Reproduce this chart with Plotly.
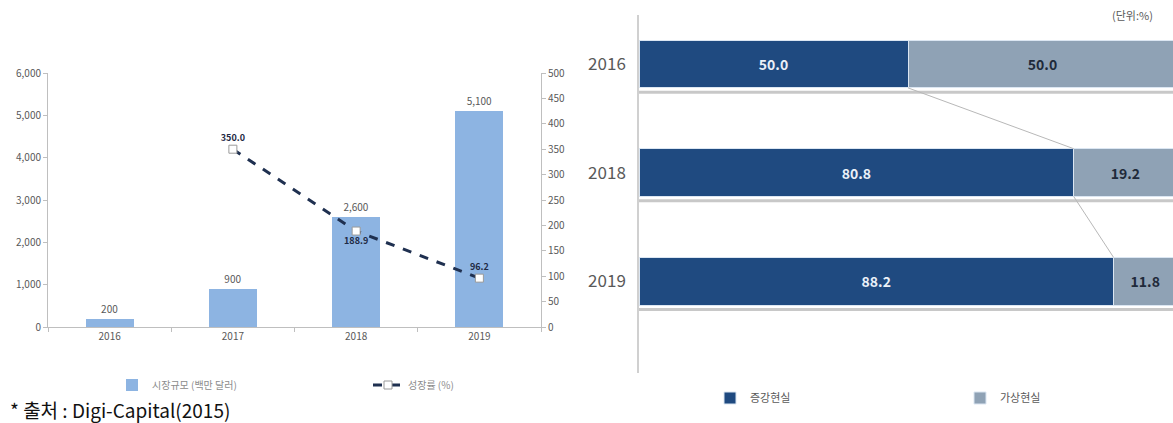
import plotly.graph_objects as go

# Left chart data
years_left = ["2016", "2017", "2018", "2019"]
market_size = [200, 900, 2600, 5100]          # 시장규모 (백만 달러)
growth_rate = [None, 350.0, 188.9, 96.2]       # 성장률 (%)
market_labels = ["200", "900", "2,600", "5,100"]
growth_labels = ["", "350.0", "188.9", "96.2"]

# Right chart data
years_right = ["2016", "2018", "2019"]
ar_share = [50.0, 80.8, 88.2]   # 증강현실
vr_share = [50.0, 19.2, 11.8]   # 가상현실

FONT = "Noto Sans CJK KR"
GRAY = "#595959"
NAVY = "#1F4A80"
SLATE = "#8FA2B5"
LIGHTBLUE = "#8DB4E2"
W, H = 1173, 423

fig = go.Figure()

# ---- Left: bars + line
fig.add_trace(go.Bar(
    x=years_left, y=market_size, name="시장규모 (백만 달러)",
    marker=dict(color=LIGHTBLUE, line=dict(width=0)), width=0.39,
    text=market_labels, textposition="outside", cliponaxis=False,
    textfont=dict(size=10, color=GRAY, family=FONT),
    xaxis="x", yaxis="y", legend="legend",
))
fig.add_trace(go.Scatter(
    x=years_left, y=growth_rate, name="성장률 (%)", mode="lines+markers+text",
    line=dict(color="#1F3050", width=3, dash="dash"),
    marker=dict(symbol="square", size=8, color="white", line=dict(color="#9a9a9a", width=1)),
    text=growth_labels,
    textposition=["top center", "top center", "bottom center", "top center"],
    textfont=dict(size=9, color="#1F2A44", family=FONT, weight="bold"),
    cliponaxis=False,
    xaxis="x", yaxis="y3", legend="legend3",
))

# ---- Right: stacked horizontal bars
idx = list(range(len(years_right)))
BW = 0.44
fig.add_trace(go.Bar(
    y=idx, x=ar_share, orientation="h", name="증강현실",
    marker=dict(color=NAVY, line=dict(color="#dbe6f2", width=1)), width=BW,
    text=[f"{v:.1f}" for v in ar_share], textposition="inside", insidetextanchor="middle",
    textfont=dict(size=14, color="#EAF0F8", family=FONT, weight="bold"),
    xaxis="x2", yaxis="y2", legend="legend2",
))
fig.add_trace(go.Bar(
    y=idx, x=vr_share, orientation="h", name="가상현실",
    marker=dict(color=SLATE, line=dict(color="#dbe6f2", width=1)), width=BW,
    text=[f"{v:.1f}" for v in vr_share], textposition="inside", insidetextanchor="middle",
    textfont=dict(size=14, color="#1F2A3A", family=FONT, weight="bold"),
    constraintext="none",
    xaxis="x2", yaxis="y2", legend="legend4",
))

# series connector lines
cx, cy = [], []
for i in range(len(ar_share) - 1):
    cx += [ar_share[i], ar_share[i + 1], None]
    cy += [idx[i] + BW / 2, idx[i + 1] - BW / 2, None]
fig.add_trace(go.Scatter(
    x=cx, y=cy, mode="lines", line=dict(color="#b8b8b8", width=1),
    showlegend=False, hoverinfo="skip", xaxis="x2", yaxis="y2",
))

# shadow lines under each bar
shapes = []
for i in idx:
    shapes.append(dict(type="line", xref="x2 domain", yref="y2",
                       x0=0, x1=1, y0=i + BW / 2 + 0.04, y1=i + BW / 2 + 0.04,
                       line=dict(color="#c8c8c8", width=3), layer="below"))

# ---- Layout
lx0, lx1 = 48 / W, 541 / W
ly0, ly1 = (H - 327) / H, (H - 73) / H
rx0 = 639 / W
ry0, ry1 = (H - 373) / H, (H - 15) / H
px_per_pct = 5.38
px_per_row = 108.6

axis_font = dict(size=10, color=GRAY, family=FONT)


def leg(xpx, ypx, size, color):
    return dict(orientation="h", x=xpx / W, y=(H - ypx) / H, xanchor="left", yanchor="middle",
                font=dict(size=size, color=color, family=FONT), bgcolor="rgba(0,0,0,0)",
                itemwidth=30, borderwidth=0)


fig.update_layout(
    width=W, height=H,
    margin=dict(l=0, r=0, t=0, b=0, autoexpand=False),
    paper_bgcolor="white", plot_bgcolor="white",
    barmode="stack",
    font=dict(family=FONT, color=GRAY),
    xaxis=dict(domain=[lx0, lx1], type="category", showline=True, linecolor="#bfbfbf",
               ticks="outside", tickson="boundaries", ticklen=4, tickcolor="#bfbfbf",
               tickfont=axis_font, showgrid=False, anchor="y"),
    yaxis=dict(domain=[ly0, ly1], range=[0, 6000], dtick=1000, tickformat=",",
               showline=True, linecolor="#bfbfbf", ticks="outside", ticklen=4,
               tickcolor="#bfbfbf", tickfont=axis_font, showgrid=False, zeroline=False,
               anchor="x"),
    yaxis3=dict(domain=[ly0, ly1], range=[0, 500], dtick=50, overlaying="y", side="right",
                anchor="x", showline=True, linecolor="#bfbfbf", ticks="outside", ticklen=4,
                tickcolor="#bfbfbf", tickfont=axis_font, showgrid=False, zeroline=False),
    xaxis2=dict(domain=[rx0, 1.0], range=[0, (W - 639) / px_per_pct], showticklabels=False,
                showgrid=False, zeroline=False, showline=False, anchor="y2"),
    yaxis2=dict(domain=[ry0, ry1],
                range=[(373 - 64) / px_per_row, -(64 - 15) / px_per_row],
                tickmode="array", tickvals=idx, ticktext=years_right,
                tickfont=dict(size=17, color=GRAY, family=FONT),
                showline=True, linecolor="#d0d0d0", linewidth=1.5, ticks="",
                showgrid=False, zeroline=False, anchor="x2", ticklabelstandoff=8),
    shapes=shapes,
    legend=leg(112, 385, 10, "#8c8c8c"),
    legend3=leg(368, 385, 10, "#8c8c8c"),
    legend2=leg(710, 398, 11, GRAY),
    legend4=leg(960, 398, 11, GRAY),
    annotations=[
        dict(text="* 출처 : Digi-Capital(2015)", xref="paper", yref="paper",
             x=8 / W, y=(H - 409) / H, xanchor="left", yanchor="middle", showarrow=False,
             font=dict(size=19, color="#111111", family=FONT)),
        dict(text="(단위:%)", xref="paper", yref="paper",
             x=1155 / W, y=(H - 15) / H, xanchor="right", yanchor="middle", showarrow=False,
             font=dict(size=11, color=GRAY, family=FONT)),
    ],
)

fig.write_html(
    "out.html",
    config={"displayModeBar": False},
    post_script="document.body.style.margin='0';document.documentElement.style.overflow='hidden';",
)
